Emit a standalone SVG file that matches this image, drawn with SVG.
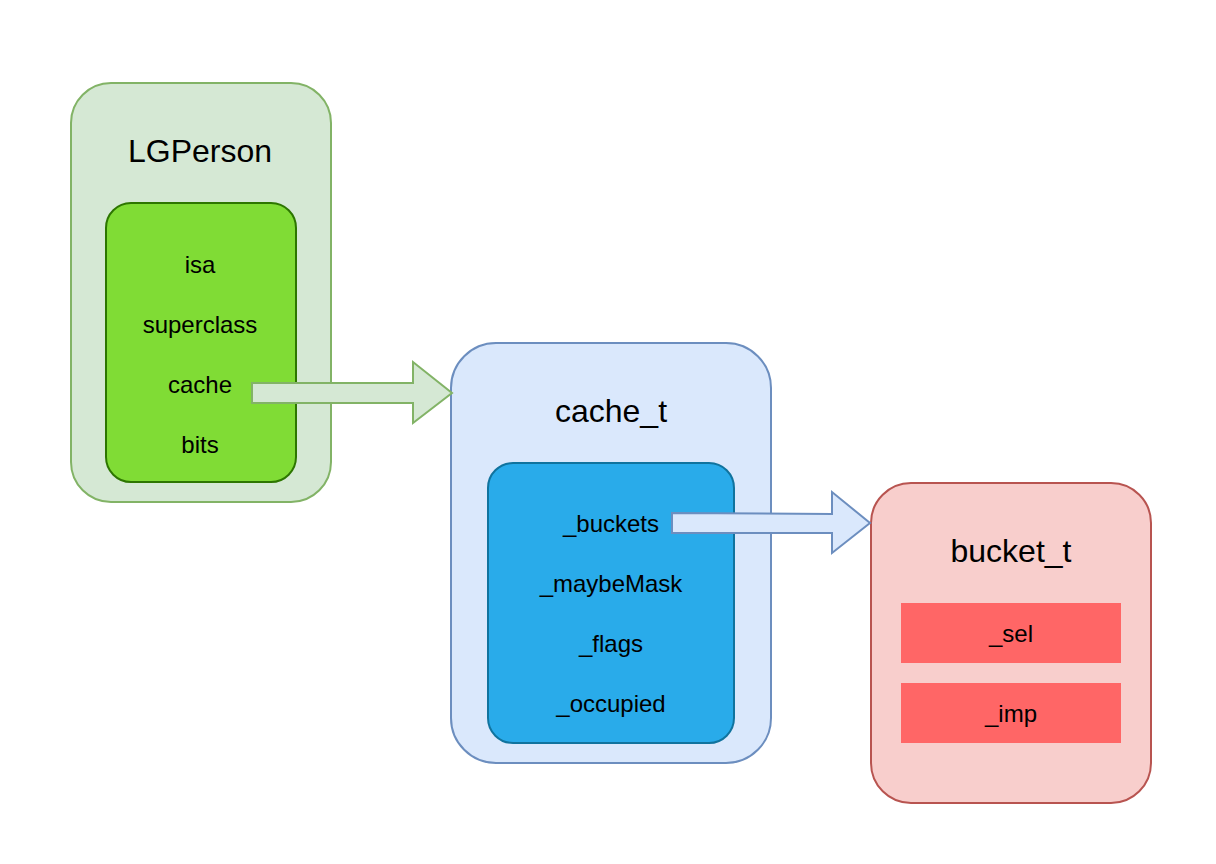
<svg xmlns="http://www.w3.org/2000/svg" width="1216" height="864" viewBox="0 0 1216 864">
<style>
text{font-family:"Liberation Sans",Arial,sans-serif;fill:#000;text-anchor:middle}
.t{font-size:32px}
.f{font-size:24px}
</style>
<rect width="1216" height="864" fill="#fff"/>
<g id="lgperson">
<rect x="71" y="83" width="260" height="419" rx="40" fill="#d5e8d4" stroke="#82b366" stroke-width="2"/>
<text class="t" x="200" y="162">LGPerson</text>
<rect x="106" y="203" width="190" height="279" rx="25" fill="#80dc35" stroke="#2d7600" stroke-width="2"/>
<text class="f" x="200" y="273">isa</text>
<text class="f" x="200" y="333">superclass</text>
<text class="f" x="200" y="393">cache</text>
<text class="f" x="200" y="453">bits</text>
</g>
<g id="cache_t">
<rect x="451" y="343" width="320" height="420" rx="45" fill="#dae8fc" stroke="#6c8ebf" stroke-width="2"/>
<text class="t" x="611" y="422">cache_t</text>
<rect x="488" y="463" width="246" height="280" rx="25" fill="#29abea" stroke="#10739e" stroke-width="2"/>
<text class="f" x="611" y="532">_buckets</text>
<text class="f" x="611" y="592">_maybeMask</text>
<text class="f" x="611" y="652">_flags</text>
<text class="f" x="611" y="712">_occupied</text>
</g>
<g id="bucket_t">
<rect x="871" y="483" width="280" height="320" rx="40" fill="#f8cecc" stroke="#b85450" stroke-width="2"/>
<text class="t" x="1011" y="562">bucket_t</text>
<rect x="901" y="603" width="220" height="60" fill="#ff6666"/>
<text class="f" x="1011" y="642">_sel</text>
<rect x="901" y="683" width="220" height="60" fill="#ff6666"/>
<text class="f" x="1011" y="722">_imp</text>
</g>
<g id="connectors" stroke-width="2" stroke-linejoin="miter">
<polygon points="252,383 413,383 413,362 452,393 413,423 413,403 252,403" fill="#d5e8d4" stroke="#82b366"/>
<polygon points="672,513 832,514 832,492 870,523 832,553 832,533 672,533" fill="#dae8fc" stroke="#6c8ebf"/>
</g>
</svg>
